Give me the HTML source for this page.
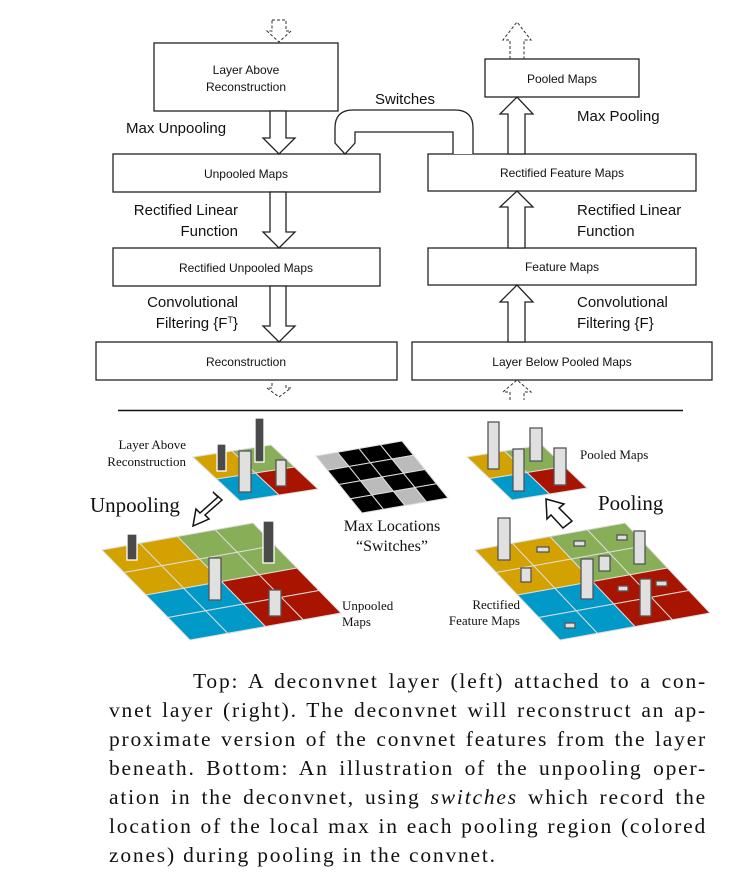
<!DOCTYPE html>
<html><head><meta charset="utf-8"><style>
html,body{margin:0;padding:0;background:#fff}
svg{display:block}
.b{font-family:"Liberation Sans",sans-serif;font-size:12px;fill:#111}
.l{font-family:"Liberation Sans",sans-serif;font-size:15px;fill:#111}
.s{font-family:"Liberation Serif",serif;fill:#111}
#cap{position:absolute;left:109px;top:667px;width:598px;font-family:"Liberation Serif",serif;font-size:21.5px;letter-spacing:1.8px;line-height:29px;color:#111}
#cap div{text-align:justify;text-align-last:justify;white-space:nowrap;height:29px}
#cap div.last{text-align-last:left}
</style></head><body>
<svg id="g" width="736" height="887" viewBox="0 0 736 887" xmlns="http://www.w3.org/2000/svg">
<g fill="#fff" stroke="#222" stroke-width="1.3">
<rect x="154" y="43" width="184" height="68"/>
<rect x="113" y="154" width="267" height="38"/>
<rect x="113" y="248" width="267" height="38"/>
<rect x="96" y="342" width="301" height="38"/>
<rect x="485" y="59" width="154" height="38"/>
<rect x="428" y="154" width="268" height="37"/>
<rect x="428" y="248" width="268" height="37"/>
<rect x="412" y="342" width="300" height="38"/>
<path d="M270 111V138H263L279 154L295 138H286V111Z"/>
<path d="M270 192V232H263L279 248L295 232H286V192Z"/>
<path d="M270 286V326H263L279 342L295 326H286V286Z"/>
<path d="M508 154V114H500L517 97L533 114H525V154Z"/>
<path d="M508 248V207H500L517 191L533 207H525V248Z"/>
<path d="M508 342V302H500L517 285L533 302H525V342Z"/>
<path d="M473 154V128Q473 110 455 110H353Q335 110 335 128V143L345 154L355 143V132H453V154"/>
</g>
<g fill="none" stroke="#333" stroke-width="1" stroke-dasharray="3,2">
<path d="M272 20H286V31H291L279 42L267 31H272Z"/>
<path d="M272 383V388H267L279 397L291 388H286V383"/>
<path d="M510 59V40H503L517 22L531 40H524V59"/>
<path d="M510 400V392H503L517 380L531 392H524V400"/>
</g>
<text class="b" x="246" y="74" text-anchor="middle">Layer Above</text>
<text class="b" x="246" y="91" text-anchor="middle">Reconstruction</text>
<text class="b" x="246" y="178" text-anchor="middle">Unpooled Maps</text>
<text class="b" x="246" y="272" text-anchor="middle">Rectified Unpooled Maps</text>
<text class="b" x="246" y="366" text-anchor="middle">Reconstruction</text>
<text class="b" x="562" y="83" text-anchor="middle">Pooled Maps</text>
<text class="b" x="562" y="177" text-anchor="middle">Rectified Feature Maps</text>
<text class="b" x="562" y="271" text-anchor="middle">Feature Maps</text>
<text class="b" x="562" y="366" text-anchor="middle">Layer Below Pooled Maps</text>
<text class="l" x="405" y="104" text-anchor="middle">Switches</text>
<text class="l" x="126" y="133">Max Unpooling</text>
<text class="l" x="238" y="215" text-anchor="end">Rectified Linear</text>
<text class="l" x="238" y="236" text-anchor="end">Function</text>
<text class="l" x="238" y="307" text-anchor="end">Convolutional</text>
<text class="l" x="238" y="328" text-anchor="end">Filtering {F<tspan font-size="9" dy="-5">T</tspan><tspan dy="5">}</tspan></text>
<text class="l" x="577" y="121">Max Pooling</text>
<text class="l" x="577" y="215">Rectified Linear</text>
<text class="l" x="577" y="236">Function</text>
<text class="l" x="577" y="307">Convolutional</text>
<text class="l" x="577" y="328">Filtering {F}</text>
<line x1="118" y1="410.5" x2="683" y2="410.5" stroke="#111" stroke-width="1.5"/>
<g id="grids"></g>
<g fill="#fff" stroke="#111" stroke-width="1.5">
<path d="M213 492L222 500L205 515L209 519L193 526L196 509L200 513L218 497Z"/>
<path d="M546 499L564 504L559 508L572 521L563 528L551 515L547 519Z"/>
</g>
<text class="s" font-size="13" x="186" y="449" text-anchor="end">Layer Above</text>
<text class="s" font-size="13" x="186" y="466" text-anchor="end">Reconstruction</text>
<text class="s" font-size="21" x="90" y="512">Unpooling</text>
<text class="s" font-size="21" x="598" y="510">Pooling</text>
<text class="s" font-size="16" x="392" y="531" text-anchor="middle">Max Locations</text>
<text class="s" font-size="16" x="392" y="551" text-anchor="middle">“Switches”</text>
<text class="s" font-size="13" x="580" y="459">Pooled Maps</text>
<text class="s" font-size="13" x="342" y="610">Unpooled</text>
<text class="s" font-size="13" x="342" y="626">Maps</text>
<text class="s" font-size="13" x="520" y="609" text-anchor="end">Rectified</text>
<text class="s" font-size="13" x="520" y="625" text-anchor="end">Feature Maps</text>
</svg>
<div id="cap">
<div style="padding-left:84px">Top: A deconvnet layer (left) attached to a con-</div>
<div>vnet layer (right). The deconvnet will reconstruct an ap-</div>
<div>proximate version of the convnet features from the layer</div>
<div>beneath. Bottom: An illustration of the unpooling oper-</div>
<div>ation in the deconvnet, using <i>switches</i> which record the</div>
<div>location of the local max in each pooling region (colored</div>
<div class="last">zones) during pooling in the convnet.</div>
</div>
<script>
var NS="http://www.w3.org/2000/svg",G=document.getElementById("grids");
function el(t,a){var e=document.createElementNS(NS,t);for(var k in a)e.setAttribute(k,a[k]);G.appendChild(e);return e;}
var Y="#D4A200",Gr="#88AE58",B="#0099C8",R="#A81400";
function grid(O,u,v,n,col){for(var r=0;r<n;r++)for(var c=0;c<n;c++){
 var p=function(a,b){return (O[0]+u[0]*a/n+v[0]*b/n).toFixed(1)+","+(O[1]+u[1]*a/n+v[1]*b/n).toFixed(1);};
 el("polygon",{points:[p(c,r),p(c+1,r),p(c+1,r+1),p(c,r+1)].join(" "),fill:col(r,c),stroke:"#ddd","stroke-width":"1"});}}
function q(n){return function(r,c){var h=n/2;return r<h?(c<h?Y:Gr):(c<h?B:R);};}
grid([193,457],[78,-12],[47,44],2,q(2));
grid([102,550],[151,-27],[88,90],4,q(4));
grid([467,457],[75,-12],[45,43],2,q(2));
grid([475,550],[150,-27],[85,90],4,q(4));
var gr={"0,0":1,"1,3":1,"2,1":1,"3,2":1};
grid([316,456],[86,-15],[46,57],4,function(r,c){return gr[r+","+c]?"#bbb":"#000";});
function bar(x1,x2,y1,y2,dark){el("rect",{x:x1,y:y1,width:x2-x1,height:y2-y1,fill:dark?"#4a4a4a":"#e0e0e0",stroke:dark?"#fff":"#555","stroke-width":"1.3"});}
bar(217,226,444,471,1);bar(255,264,418,462,1);bar(239,251,451,492);bar(276,286,460,486);
bar(127,137,534,560,1);bar(263,274,521,563,1);bar(209,221,558,600);bar(269,281,590,616);
bar(488,499,422,469);bar(513,524,449,491);bar(530,542,428,461);bar(554,566,448,485);
[[498,510,518,560],[537,549,547,552],[521,531,568,582],[574,585,541,546],[581,593,559,599],[599,610,556,571],[617,627,535,540],[634,645,531,564],[618,628,586,591],[640,651,579,616],[656,667,581,586],[565,575,623,628]].forEach(function(b){bar(b[0],b[1],b[2],b[3]);});
</script>
</body></html>
